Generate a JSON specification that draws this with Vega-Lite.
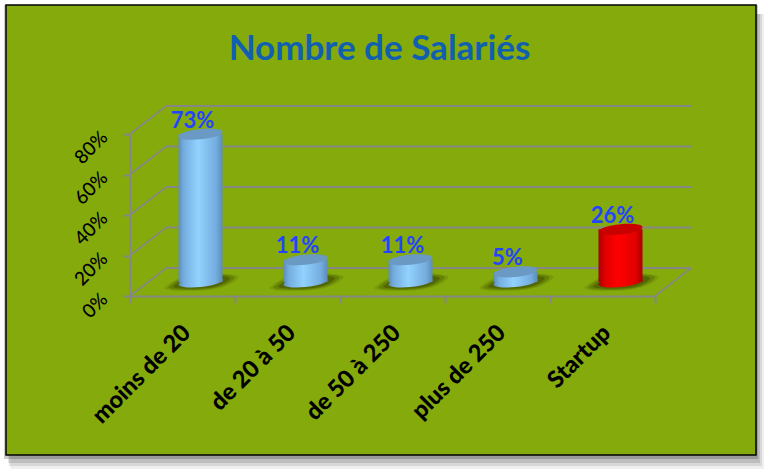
{
"$schema":"https://vega.github.io/schema/vega-lite/v6.json",
"width":525,"height":162,
"padding":{"left":130,"top":134,"right":115,"bottom":174},
"autosize":{"type":"none"},
"background":"white",
"config":{"view":{"stroke":null}},
"title":{"text":"Nombre de Salariés","font":"Lato","fontWeight":"bold","fontSize":35,"color":"#1160B0","anchor":"middle","frame":"group","dx":-13,"offset":-63,"zindex":1},
"datasets":{
"cats":[
{"tranche":"moins de 20","part":0.73,"groupe":"autres"},
{"tranche":"de 20 à 50","part":0.11,"groupe":"autres"},
{"tranche":"de 50 à 250","part":0.11,"groupe":"autres"},
{"tranche":"plus de 250","part":0.05,"groupe":"autres"},
{"tranche":"Startup","part":0.26,"groupe":"startup"}
],
"niveaux":[{"niveau":0,"fond":0.138},{"niveau":0.2,"fond":0.338},{"niveau":0.4,"fond":0.538},{"niveau":0.6,"fond":0.738},{"niveau":0.8,"fond":0.938}],
"cadre":[
{"l":0.006,"r":1.0106,"b":-0.0311,"t":0.98,"o":0.08},
{"l":0.004,"r":1.008,"b":-0.0244,"t":0.98,"o":0.12},
{"l":0.003,"r":1.0053,"b":-0.0178,"t":0.98,"o":0.16},
{"l":-0.0027,"r":1.0027,"b":-0.0089,"t":1.0,"o":0.25}
]
},
"resolve":{"scale":{"x":"independent","y":"independent","color":"independent"},"axis":{"x":"independent","y":"independent"}},
"layer":[
{"data":{"name":"cadre"},
 "mark":{"type":"rect","fill":"#333333"},
 "encoding":{
  "x":{"field":"l","type":"quantitative","axis":null,"scale":{"domain":[0,1],"range":[-124,626]}},
  "x2":{"field":"r"},
  "y":{"field":"b","type":"quantitative","axis":null,"scale":{"domain":[0,1],"range":[321,-129]}},
  "y2":{"field":"t"},
  "opacity":{"field":"o","type":"quantitative","scale":null}
 }},
{"data":{"values":[{"l":0,"r":1,"b":0,"t":1}]},
 "mark":{"type":"rect","fill":"#84AA0B","stroke":"#000000","strokeWidth":1.5},
 "encoding":{
  "x":{"field":"l","type":"quantitative","axis":null,"scale":{"domain":[0,1],"range":[-124,626]}},
  "x2":{"field":"r"},
  "y":{"field":"b","type":"quantitative","axis":null,"scale":{"domain":[0,1],"range":[321,-129]}},
  "y2":{"field":"t"}
 }},
{"data":{"name":"niveaux"},
 "mark":{"type":"rule","color":"#878787","strokeWidth":2},
 "encoding":{
  "x":{"datum":0,"type":"quantitative","axis":null,"scale":{"domain":[0,1],"range":[36,561]}},
  "x2":{"datum":1},
  "y":{"field":"niveau","type":"quantitative","axis":null,"scale":{"domain":[0,0.8],"range":[134,-28]}}
 }},
{"data":{"name":"niveaux"},
 "mark":{"type":"rule","color":"#878787","strokeWidth":1.6},
 "encoding":{
  "x":{"datum":0,"type":"quantitative","axis":null,"scale":{"domain":[0,1],"range":[0,36]}},
  "x2":{"datum":1},
  "y":{"field":"niveau","type":"quantitative","axis":null,"scale":{"domain":[0,0.8],"range":[162,0]}},
  "y2":{"field":"fond"}
 }},
{"data":{"values":[{"niveau":0,"fond":0.138}]},
 "mark":{"type":"rule","color":"#878787","strokeWidth":1.6},
 "encoding":{
  "x":{"datum":0,"type":"quantitative","axis":null,"scale":{"domain":[0,1],"range":[525,561]}},
  "x2":{"datum":1},
  "y":{"field":"niveau","type":"quantitative","axis":null,"scale":{"domain":[0,0.8],"range":[162,0]}},
  "y2":{"field":"fond"}
 }},
{"data":{"name":"cats"},
 "mark":{"type":"point","opacity":0},
 "encoding":{
  "x":{"field":"tranche","type":"nominal","scale":{"type":"band","domain":["moins de 20","de 20 à 50","de 50 à 250","plus de 250","Startup"],"range":[0,525],"paddingInner":0,"paddingOuter":0},
   "axis":{"title":null,"zindex":1,"domainColor":"#878787","domainWidth":2,"tickColor":"#878787","tickWidth":2,"tickSize":7,"tickBand":"extent","labelAngle":-45,"labelAlign":"right","labelBaseline":"middle","labelPadding":26,"labelOffset":4,"labelFont":"Lato","labelFontWeight":900,"labelFontSize":23.5,"labelColor":"#000000","labelOverlap":false}},
  "y":{"field":"part","type":"quantitative","scale":{"domain":[0,0.8],"range":[162,0]},
   "axis":{"title":null,"zindex":1,"values":[0,0.2,0.4,0.6,0.8],"format":".0%","domainColor":"#878787","domainWidth":2,"tickColor":"#878787","tickWidth":2,"tickSize":7,"labelAngle":-45,"labelAlign":"right","labelBaseline":"middle","labelPadding":19,"labelFont":"Lato","labelFontWeight":500,"labelFontSize":19,"labelColor":"#000000"}}
 }},
{"data":{"name":"cats"},
 "mark":{"type":"point","filled":true,"fill":"#445500","opacity":0.18,"size":5600,"shape":"M -1 0.16 C -0.8 -0.02 -0.5 -0.2 -0.1 -0.22 C 0.4 -0.24 0.9 -0.24 1 -0.14 C 0.9 0.04 0.5 0.2 0.1 0.22 C -0.4 0.25 -0.95 0.25 -1 0.16 Z"},
 "encoding":{
  "x":{"field":"tranche","type":"nominal","axis":null,"scale":{"type":"band","domain":["moins de 20","de 20 à 50","de 50 à 250","plus de 250","Startup"],"range":[19,544],"paddingInner":0,"paddingOuter":0}},
  "y":{"datum":0,"type":"quantitative","axis":null,"scale":{"domain":[0,0.8],"range":[148,-14]}}
 }},
{"data":{"name":"cats"},
 "mark":{"type":"point","filled":true,"fill":"#445500","opacity":0.35,"size":4500,"shape":"M -1 0.16 C -0.8 -0.02 -0.5 -0.2 -0.1 -0.22 C 0.4 -0.24 0.9 -0.24 1 -0.14 C 0.9 0.04 0.5 0.2 0.1 0.22 C -0.4 0.25 -0.95 0.25 -1 0.16 Z"},
 "encoding":{
  "x":{"field":"tranche","type":"nominal","axis":null,"scale":{"type":"band","domain":["moins de 20","de 20 à 50","de 50 à 250","plus de 250","Startup"],"range":[19,544],"paddingInner":0,"paddingOuter":0}},
  "y":{"datum":0,"type":"quantitative","axis":null,"scale":{"domain":[0,0.8],"range":[148,-14]}}
 }},
{"data":{"name":"cats"},
 "mark":{"type":"point","filled":true,"fill":"#445500","opacity":0.6,"size":3300,"shape":"M -1 0.16 C -0.8 -0.02 -0.5 -0.2 -0.1 -0.22 C 0.4 -0.24 0.9 -0.24 1 -0.14 C 0.9 0.04 0.5 0.2 0.1 0.22 C -0.4 0.25 -0.95 0.25 -1 0.16 Z"},
 "encoding":{
  "x":{"field":"tranche","type":"nominal","axis":null,"scale":{"type":"band","domain":["moins de 20","de 20 à 50","de 50 à 250","plus de 250","Startup"],"range":[19,544],"paddingInner":0,"paddingOuter":0}},
  "y":{"datum":0,"type":"quantitative","axis":null,"scale":{"domain":[0,0.8],"range":[148,-14]}}
 }},
{"data":{"name":"cats"},"transform":[{"filter":"datum.groupe==='autres'"}],
 "mark":{"type":"point","filled":true,"opacity":1,"size":1936,"shape":"M -1 0.1 A 1 0.23 -6 1 1 1 -0.1 A 1 0.23 -6 1 1 -1 0.1 Z","fill":{"gradient":"linear","x1":0,"y1":0,"x2":1,"y2":0,"stops":[{"offset":0,"color":"#5C8DB8"},{"offset":0.12,"color":"#74ADDE"},{"offset":0.45,"color":"#92D2FF"},{"offset":0.85,"color":"#74ADDE"},{"offset":1,"color":"#5C8DB8"}]}},
 "encoding":{
  "x":{"field":"tranche","type":"nominal","axis":null,"scale":{"type":"band","domain":["moins de 20","de 20 à 50","de 50 à 250","plus de 250","Startup"],"range":[18,543],"paddingInner":0,"paddingOuter":0}},
  "y":{"datum":0,"type":"quantitative","axis":null,"scale":{"domain":[0,0.8],"range":[148,-14]}}
 }},
{"data":{"name":"cats"},"transform":[{"filter":"datum.groupe==='startup'"}],
 "mark":{"type":"point","filled":true,"opacity":1,"size":1936,"shape":"M -1 0.1 A 1 0.23 -6 1 1 1 -0.1 A 1 0.23 -6 1 1 -1 0.1 Z","fill":{"gradient":"linear","x1":0,"y1":0,"x2":1,"y2":0,"stops":[{"offset":0,"color":"#A80000"},{"offset":0.15,"color":"#E00000"},{"offset":0.45,"color":"#FF0000"},{"offset":0.85,"color":"#E00000"},{"offset":1,"color":"#A80000"}]}},
 "encoding":{
  "x":{"field":"tranche","type":"nominal","axis":null,"scale":{"type":"band","domain":["moins de 20","de 20 à 50","de 50 à 250","plus de 250","Startup"],"range":[18,543],"paddingInner":0,"paddingOuter":0}},
  "y":{"datum":0,"type":"quantitative","axis":null,"scale":{"domain":[0,0.8],"range":[148,-14]}}
 }},
{"data":{"name":"cats"},"transform":[{"filter":"datum.groupe==='autres'"}],
 "mark":{"type":"bar","size":44,"color":{"gradient":"linear","x1":0,"y1":0,"x2":1,"y2":0,"stops":[{"offset":0,"color":"#5C8DB8"},{"offset":0.12,"color":"#74ADDE"},{"offset":0.45,"color":"#92D2FF"},{"offset":0.85,"color":"#74ADDE"},{"offset":1,"color":"#5C8DB8"}]}},
 "encoding":{
  "x":{"field":"tranche","type":"nominal","axis":null,"scale":{"type":"band","domain":["moins de 20","de 20 à 50","de 50 à 250","plus de 250","Startup"],"range":[18,543],"paddingInner":0,"paddingOuter":0}},
  "y":{"field":"part","type":"quantitative","axis":null,"scale":{"domain":[0,0.8],"range":[148,-14]}}
 }},
{"data":{"name":"cats"},"transform":[{"filter":"datum.groupe==='startup'"}],
 "mark":{"type":"bar","size":44,"color":{"gradient":"linear","x1":0,"y1":0,"x2":1,"y2":0,"stops":[{"offset":0,"color":"#A80000"},{"offset":0.15,"color":"#E00000"},{"offset":0.45,"color":"#FF0000"},{"offset":0.85,"color":"#E00000"},{"offset":1,"color":"#A80000"}]}},
 "encoding":{
  "x":{"field":"tranche","type":"nominal","axis":null,"scale":{"type":"band","domain":["moins de 20","de 20 à 50","de 50 à 250","plus de 250","Startup"],"range":[18,543],"paddingInner":0,"paddingOuter":0}},
  "y":{"field":"part","type":"quantitative","axis":null,"scale":{"domain":[0,0.8],"range":[148,-14]}}
 }},
{"data":{"name":"cats"},
 "mark":{"type":"point","filled":true,"opacity":1,"size":1936,"shape":"M -1 0.1 A 1 0.23 -6 1 1 1 -0.1 A 1 0.23 -6 1 1 -1 0.1 Z"},
 "encoding":{
  "x":{"field":"tranche","type":"nominal","axis":null,"scale":{"type":"band","domain":["moins de 20","de 20 à 50","de 50 à 250","plus de 250","Startup"],"range":[18,543],"paddingInner":0,"paddingOuter":0}},
  "y":{"field":"part","type":"quantitative","axis":null,"scale":{"domain":[0,0.8],"range":[148,-14]}},
  "fill":{"field":"groupe","type":"nominal","legend":null,"scale":{"domain":["autres","startup"],"range":["#6A9AC4","#C80000"]}}
 }},
{"data":{"name":"cats"},
 "mark":{"type":"text","font":"Lato","fontWeight":"bold","fontSize":22,"color":"#2244FF","baseline":"middle","align":"center"},
 "encoding":{
  "x":{"field":"tranche","type":"nominal","axis":null,"scale":{"type":"band","domain":["moins de 20","de 20 à 50","de 50 à 250","plus de 250","Startup"],"range":[10,535],"paddingInner":0,"paddingOuter":0}},
  "y":{"field":"part","type":"quantitative","axis":null,"scale":{"domain":[0,0.8],"range":[134.5,-27.5]}},
  "text":{"field":"part","type":"quantitative","format":".0%"}
 }}
]
}
